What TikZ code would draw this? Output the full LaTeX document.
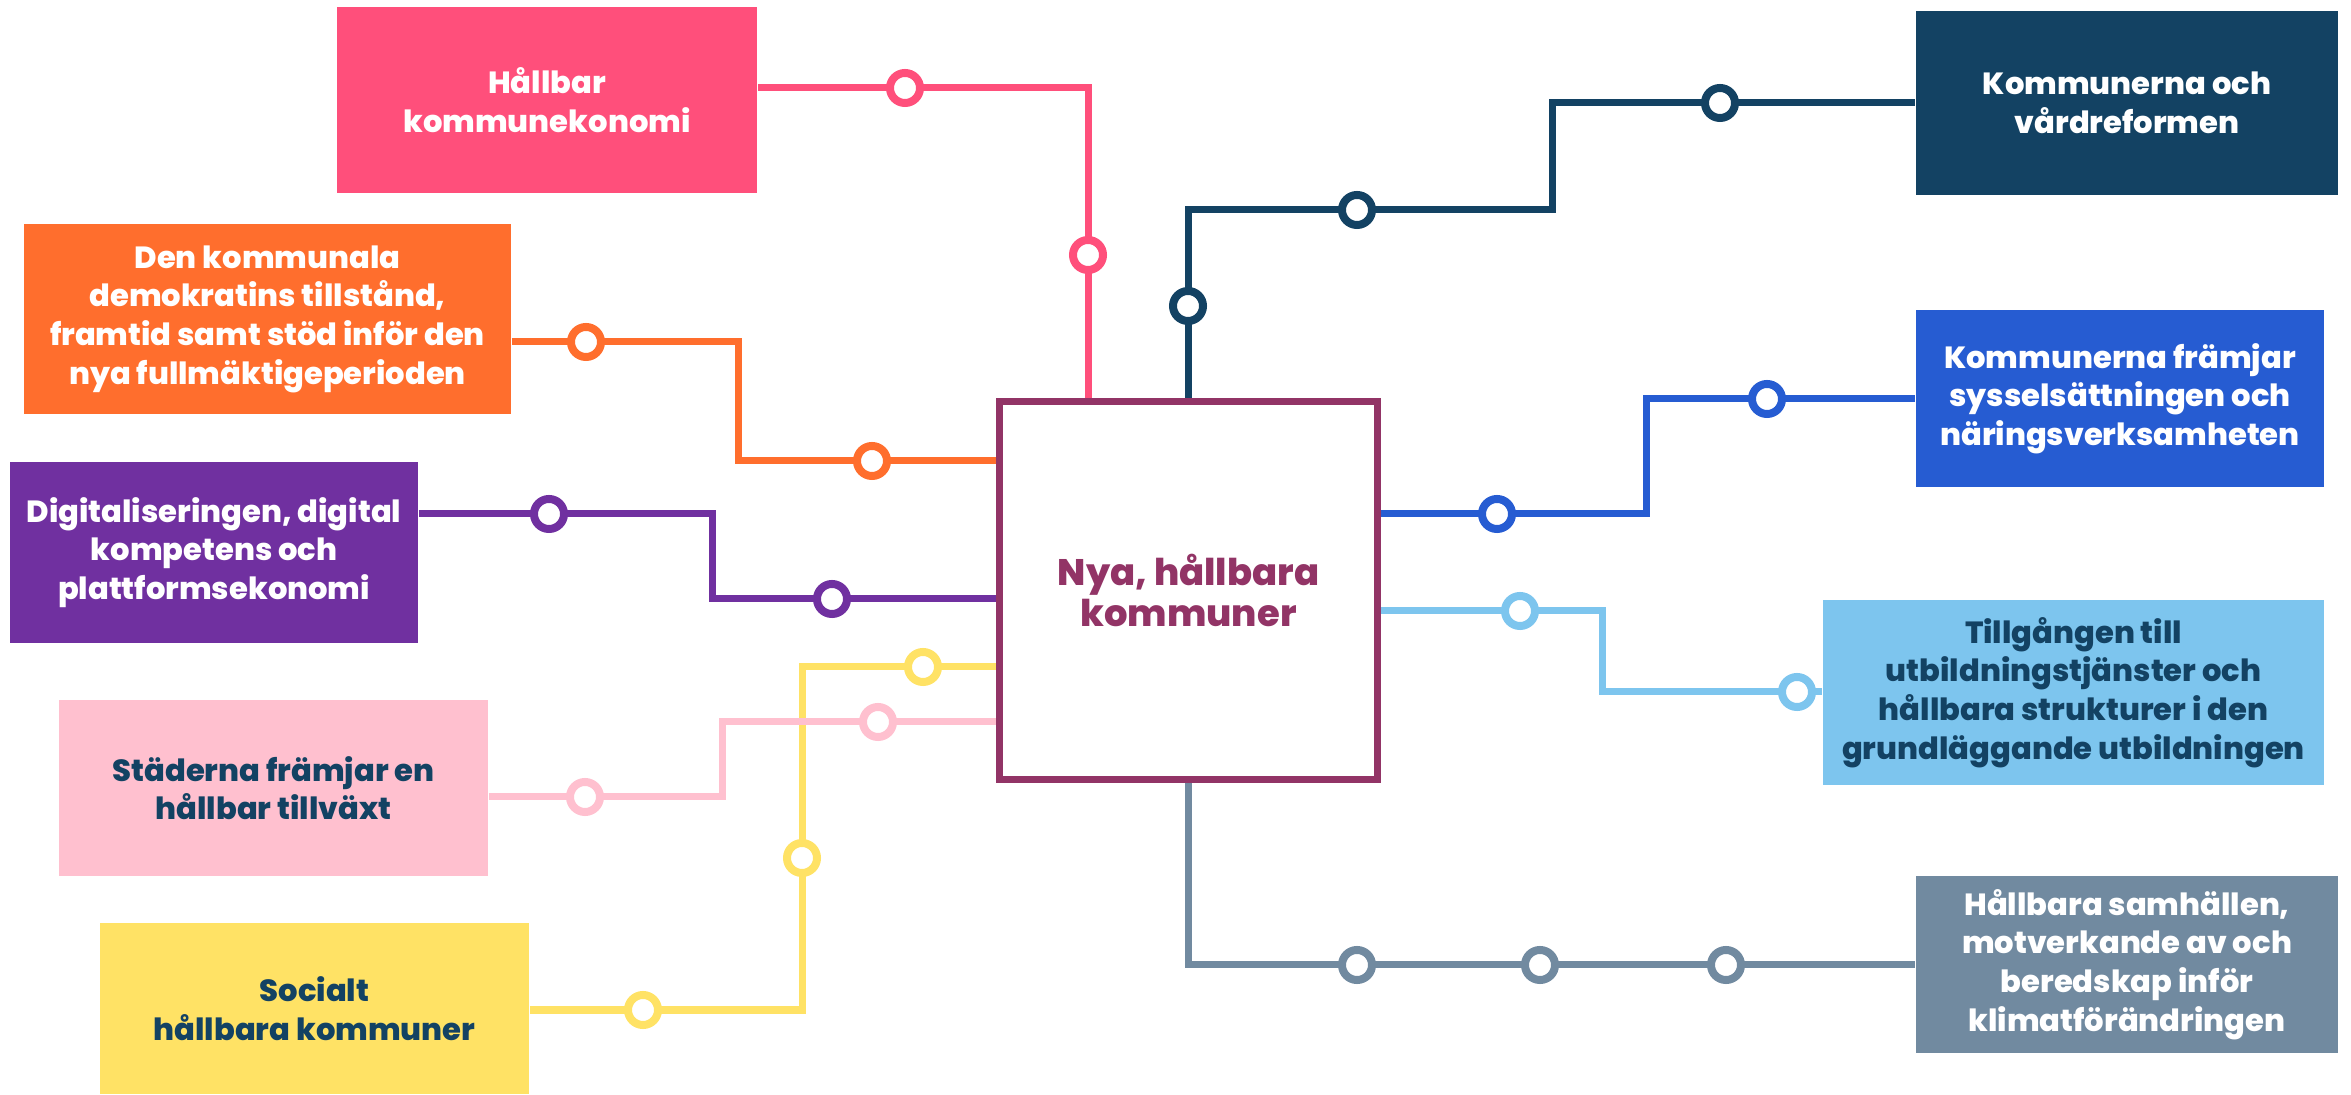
\documentclass[tikz,border=0pt]{standalone}
\usepackage{fontspec}
\setmainfont{Poppins}[BoldFont={Poppins ExtraBold}]
\usepackage{tikz}
\usetikzlibrary{calc, positioning}

\definecolor{pinkc}{HTML}{FF4F7B}
\definecolor{orangec}{HTML}{FF6E2D}
\definecolor{purplec}{HTML}{7030A0}
\definecolor{rosec}{HTML}{FFC0CF}
\definecolor{yellowc}{HTML}{FFE265}
\definecolor{plumc}{HTML}{923466}
\definecolor{navyc}{HTML}{134263}
\definecolor{bluec}{HTML}{265CD2}
\definecolor{skyc}{HTML}{7DC5EE}
\definecolor{greyc}{HTML}{718AA0}

\tikzset{
    box/.style={rectangle, inner sep=0pt, align=center,
        font=\fontsize{8.7}{11}\selectfont\bfseries},
    link/.style={line width=0.07cm},
    stop/.style={circle, fill=white, line width=0.08cm, minimum size=0.3cm, inner sep=0pt},
}

\begin{document}
\begin{tikzpicture}[x=0.01cm, y=-0.01cm]
                        \useasboundingbox (0,0) rectangle (2351,1095);
                        \node[box, fill=pinkc, text=white, minimum width=4.2cm, minimum height=1.86cm] (hk) at (547,100) {Hållbar\\kommunekonomi};
                        \node[box, fill=orangec, text=white, minimum width=4.87cm, minimum height=1.9cm] (dk) at (267.5,319) {Den kommunala\\demokratins tillstånd,\\framtid samt stöd inför den\\nya fullmäktigeperioden};
                        \node[box, fill=purplec, text=white, minimum width=4.08cm, minimum height=1.81cm] (dig) at (214,552.5) {Digitaliseringen, digital\\kompetens och\\plattformsekonomi};
                        \node[box, fill=rosec, text=navyc, minimum width=4.29cm, minimum height=1.76cm] (sf) at (273.5,788) {Städerna främjar en\\hållbar tillväxt};
                        \node[box, fill=yellowc, text=navyc, minimum width=4.29cm, minimum height=1.71cm] (sh) at (314.5,1008.5) {Socialt\\hållbara kommuner};
                        \node[box, draw=plumc, line width=0.07cm, text=plumc, minimum size=3.78cm,
                            font=\fontsize{10.5}{11.7}\selectfont\bfseries] (mid) at (1188.5,590.5) {Nya, hållbara\\kommuner};
                        \node[box, fill=navyc, text=white, minimum width=4.22cm, minimum height=1.84cm] (vr) at (2127,103) {Kommunerna och\\vårdreformen};
                        \node[box, fill=bluec, text=white, minimum width=4.08cm, minimum height=1.77cm] (sys) at (2120,398.5) {Kommunerna främjar\\sysselsättningen och\\näringsverksamheten};
                        \node[box, fill=skyc, text=navyc, minimum width=5.01cm, minimum height=1.85cm] (ut) at (2073.5,692.5) {Tillgången till\\utbildningstjänster och\\hållbara strukturer i den\\grundläggande utbildningen};
                        \node[box, fill=greyc, text=white, minimum width=4.22cm, minimum height=1.77cm] (kl) at (2127,964.5) {Hållbara samhällen,\\motverkande av och\\beredskap inför\\klimatförändringen};
                        \coordinate (hs1) at (905,88);
                        \coordinate (hs2) at (1088,255);
                        \coordinate (os1) at (586,342);
                        \coordinate (os2) at (872,461);
                        \coordinate (ob) at (738,0);
                        \coordinate (ps1) at (549,514);
                        \coordinate (ps2) at (832,599);
                        \coordinate (pb) at (712,0);
                        \coordinate (ls1) at (585,797);
                        \coordinate (ls2) at (878,722);
                        \coordinate (lb) at (722,0);
                        \coordinate (ys1) at (643,1010);
                        \coordinate (ys2) at (802,858);
                        \coordinate (ys3) at (923,667);
                        \coordinate (ns1) at (1188,306);
                        \coordinate (ns2) at (1357,210);
                        \coordinate (ns3) at (1720,103);
                        \coordinate (nb) at (1552,0);
                        \coordinate (bs1) at (1497,514);
                        \coordinate (bs2) at (1767,399);
                        \coordinate (bb) at (1646,0);
                        \coordinate (us1) at (1520,611);
                        \coordinate (us2) at (1797,692);
                        \coordinate (ub) at (1602,0);
                        \coordinate (gs1) at (1357,965);
                        \coordinate (gs2) at (1540,965);
                        \coordinate (gs3) at (1726,965);
                        \draw[link, yellowc] (sh.east |- ys1) -| (ys2 |- ys3) -- (mid.west |- ys3);
                        \draw[link, rosec] (sf.east |- ls1) -| (lb |- ls2) -- (mid.west |- ls2);
                        \draw[link, pinkc] (hk.east |- hs1) -| (hs2) -- (hs2 |- mid.north);
                        \draw[link, orangec] (dk.east |- os1) -| (ob |- os2) -- (mid.west |- os2);
                        \draw[link, purplec] (dig.east |- ps1) -| (pb |- ps2) -- (mid.west |- ps2);
                        \draw[link, navyc] (mid.north -| ns1) |- (ns2) -| (nb |- ns3) -- (vr.west |- ns3);
                        \draw[link, bluec] (mid.east |- bs1) -| (bb |- bs2) -- (sys.west |- bs2);
                        \draw[link, skyc] (mid.east |- us1) -| (ub |- us2) -- (ut.west |- us2);
                        \draw[link, greyc] (mid.south -| ns1) |- (gs1) -- (kl.west |- gs1);
                        \foreach \s/\c in {hs1/pinkc, hs2/pinkc, os1/orangec, os2/orangec, ps1/purplec, ps2/purplec,
                            ls1/rosec, ls2/rosec, ys1/yellowc, ys2/yellowc, ys3/yellowc,
                            ns1/navyc, ns2/navyc, ns3/navyc, bs1/bluec, bs2/bluec, us1/skyc, us2/skyc,
                            gs1/greyc, gs2/greyc, gs3/greyc}
                            \node[stop, draw=\c] (\s-o) at (\s) {};
                    \end{tikzpicture}
\end{document}
